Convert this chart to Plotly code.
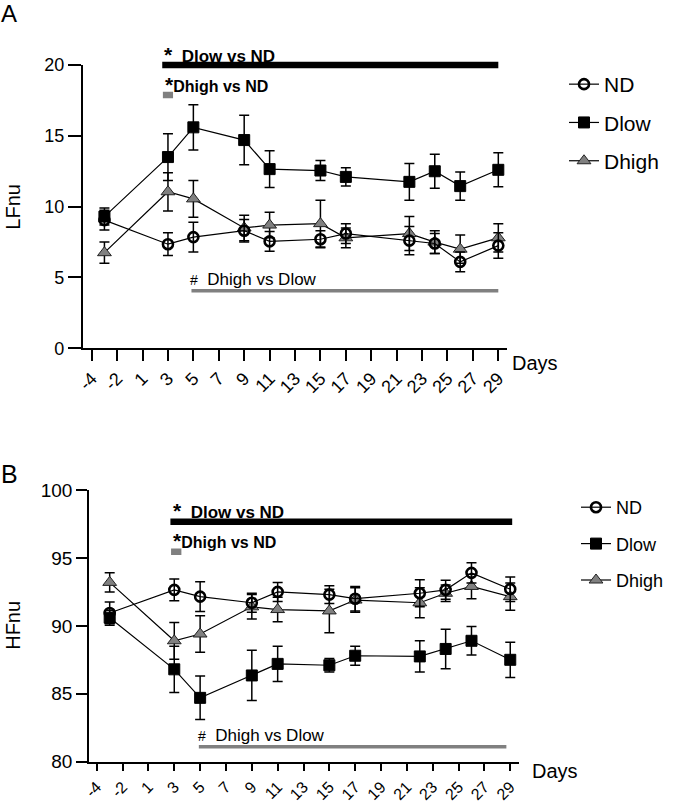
import plotly.graph_objects as go

# ---------------- data ----------------
tick_vals = [-3, -1, 1, 3, 5, 7, 9, 11, 13, 15, 17, 19, 21, 23, 25, 27, 29]
tick_text = ["-4", "-2", "1", "3", "5", "7", "9", "11", "13", "15", "17",
             "19", "21", "23", "25", "27", "29"]
days = [-2, 3, 5, 9, 11, 15, 17, 22, 24, 26, 29]

lf_nd = [9.05, 7.35, 7.85, 8.3, 7.55, 7.7, 8.1, 7.6, 7.4, 6.1, 7.25]
lf_nd_err = [0.7, 0.8, 1.05, 0.8, 0.7, 0.6, 0.7, 1.0, 0.7, 0.7, 0.9]
lf_dlow = [9.3, 13.5, 15.6, 14.7, 12.65, 12.55, 12.1, 11.75, 12.5, 11.45, 12.6]
lf_dlow_err = [0.6, 1.65, 1.6, 1.75, 1.3, 0.7, 0.65, 1.3, 1.2, 1.0, 1.2]
lf_dhigh = [6.75, 11.05, 10.55, 8.5, 8.7, 8.8, 7.8, 8.1, 7.5, 7.0, 7.8]
lf_dhigh_err = [0.75, 1.35, 1.3, 0.9, 0.9, 1.65, 0.7, 1.2, 0.8, 1.0, 1.0]

hf_nd = [90.95, 92.65, 92.15, 91.7, 92.5, 92.3, 92.0, 92.4, 92.65, 93.9, 92.7]
hf_nd_err = [0.8, 0.8, 1.1, 0.7, 0.7, 0.65, 0.9, 1.0, 0.7, 0.75, 0.9]
hf_dlow = [90.6, 86.8, 84.7, 86.35, 87.2, 87.1, 87.8, 87.75, 88.3, 88.9, 87.5]
hf_dlow_err = [0.55, 1.7, 1.6, 1.85, 1.3, 0.5, 0.7, 1.15, 1.45, 1.05, 1.3]
hf_dhigh = [93.2, 88.9, 89.4, 91.4, 91.2, 91.1, 91.9, 91.7, 92.4, 92.9, 92.15]
hf_dhigh_err = [0.7, 1.35, 1.35, 0.9, 0.9, 1.6, 0.9, 1.1, 0.6, 0.9, 1.0]

# significance bars: [start day, end day, level]
sigA_low_nd = [2.55, 29.0]
sigA_high_nd = [2.6, 3.4, 17.88]
sigA_high_low = [4.85, 29.0, 4.07]
sigB_low_nd = [2.7, 29.15, 97.67]
sigB_high_nd = [2.75, 3.55, 95.46]
sigB_high_low = [4.9, 28.7, 81.1]

FONT = "Arial, Liberation Sans, sans-serif"
GRAY = "#808080"
W, H = 685, 802

fig = go.Figure()


def add_series(xa, ya, leg, y, err, name, rank):
    styles = {
        "ND": dict(symbol="circle-open", size=10, color="black",
                   line=dict(color="black", width=2.6)),
        "Dlow": dict(symbol="square", size=11, color="black",
                     line=dict(color="black", width=1)),
        "Dhigh": dict(symbol="triangle-up", size=12, color=GRAY,
                      line=dict(color="#222222", width=1)),
    }
    fig.add_trace(go.Scatter(
        x=days, y=y, mode="lines+markers", name=name,
        xaxis=xa, yaxis=ya, legend=leg, legendrank=rank,
        legendgroup=name + leg,
        marker=styles[name],
        line=dict(color="black", width=1.2),
        error_y=dict(type="data", array=err, visible=True, color="black",
                     thickness=1.5, width=5),
    ))


for name, y, e, r in [("Dhigh", lf_dhigh, lf_dhigh_err, 3),
                      ("Dlow", lf_dlow, lf_dlow_err, 2),
                      ("ND", lf_nd, lf_nd_err, 1)]:
    add_series("x", "y", "legend", y, e, name, r)
for name, y, e, r in [("Dhigh", hf_dhigh, hf_dhigh_err, 3),
                      ("Dlow", hf_dlow, hf_dlow_err, 2),
                      ("ND", hf_nd, hf_nd_err, 1)]:
    add_series("x2", "y2", "legend2", y, e, name, r)

axis_common = dict(showline=True, linecolor="black", linewidth=1.5,
                   ticks="outside", tickwidth=1.5,
                   tickcolor="black", showgrid=False, zeroline=False,
                   mirror=False, automargin=False)

fig.update_layout(
    width=W, height=H, autosize=False,
    margin=dict(l=0, r=0, t=0, b=0, pad=0, autoexpand=False),
    paper_bgcolor="white", plot_bgcolor="white",
    font=dict(family=FONT, color="black"),
    xaxis=dict(domain=[82.7 / W, 506.7 / W], range=[-3.71, 29.66],
               tickmode="array", tickvals=tick_vals, ticktext=tick_text,
               tickangle=-45, tickfont=dict(size=18), anchor="y",
               ticklen=11, **axis_common),
    yaxis=dict(domain=[1 - 348.3 / H, 1 - 65 / H], range=[0, 20],
               tickvals=[0, 5, 10, 15, 20], tickfont=dict(size=18),
               anchor="x", ticklen=13, **axis_common),
    xaxis2=dict(domain=[89 / W, 519.3 / W], range=[-3.6, 29.7],
                tickmode="array", tickvals=tick_vals, ticktext=tick_text,
                tickangle=-45, tickfont=dict(size=16), anchor="y2",
                ticklen=8, **axis_common),
    yaxis2=dict(domain=[1 - 761.7 / H, 1 - 490 / H], range=[80, 100],
                tickvals=[80, 85, 90, 95, 100], tickfont=dict(size=19),
                anchor="x2", ticklen=11, **axis_common),
    legend=dict(x=564 / W, y=1 - 64 / H, xanchor="left", yanchor="top",
                font=dict(size=21), traceorder="grouped", tracegroupgap=8,
                itemwidth=30, bgcolor="rgba(0,0,0,0)"),
    legend2=dict(x=576 / W, y=1 - 489 / H, xanchor="left", yanchor="top",
                 font=dict(size=18), traceorder="grouped", tracegroupgap=10,
                 itemwidth=30, bgcolor="rgba(0,0,0,0)"),
)

shapes = []


def hbar(xr, yr, x0, x1, y, color, width):
    shapes.append(dict(type="line", xref=xr, yref=yr, x0=x0, x1=x1,
                       y0=y, y1=y, line=dict(color=color, width=width),
                       layer="above"))


hbar("x", "y domain", sigA_low_nd[0], sigA_low_nd[1], 1.0, "black", 6.5)
hbar("x", "y", sigA_high_nd[0], sigA_high_nd[1], sigA_high_nd[2], GRAY, 6.5)
hbar("x", "y", sigA_high_low[0], sigA_high_low[1], sigA_high_low[2], GRAY, 3.5)
hbar("x2", "y2", sigB_low_nd[0], sigB_low_nd[1], sigB_low_nd[2], "black", 6.5)
hbar("x2", "y2", sigB_high_nd[0], sigB_high_nd[1], sigB_high_nd[2], GRAY, 6.5)
hbar("x2", "y2", sigB_high_low[0], sigB_high_low[1], sigB_high_low[2], GRAY, 3.5)
fig.update_layout(shapes=shapes)

ann = []


def text(x, y, s, xr, yr, size, xanchor="left", yanchor="middle",
         xshift=0, yshift=0, angle=0):
    ann.append(dict(x=x, y=y, xref=xr, yref=yr, text=s, showarrow=False,
                    xanchor=xanchor, yanchor=yanchor, xshift=xshift,
                    yshift=yshift, textangle=angle,
                    font=dict(size=size, family=FONT, color="black")))


star = '<span style="font-size:21px">*</span>'
hash_ = '<span style="font-size:14px">#</span>'
# panel A
text(sigA_low_nd[0], 20, "<b>" + star + "\u00a0\u00a0Dlow vs ND</b>", "x", "y", 17, yshift=11)
text(sigA_high_nd[0], 18.63, "<b>" + star + "Dhigh vs ND</b>", "x", "y", 16)
text(4.55, 4.83, hash_ + "\u00a0\u00a0Dhigh vs Dlow", "x", "y", 17)
text(1, 0, "Days", "x domain", "y domain", 20, xshift=3, yshift=-15)
text(13 / W, 1 - 206.7 / H, "LFnu", "paper", "paper", 20, xanchor="center",
     angle=-90)
text(0, 1, "A", "paper", "paper", 24, yanchor="top", xshift=-1, yshift=2)
# panel B
text(sigB_low_nd[0] + 0.05, 98.46, "<b>" + star + "\u00a0\u00a0Dlow vs ND</b>", "x2", "y2", 17)
text(sigB_high_nd[0], 96.27, "<b>" + star + "Dhigh vs ND</b>", "x2", "y2", 16)
text(4.65, 81.9, hash_ + "\u00a0\u00a0Dhigh vs Dlow", "x2", "y2", 17)
text(1, 0, "Days", "x2 domain", "y2 domain", 20, xshift=11, yshift=-9)
text(13 / W, 1 - 625.8 / H, "HFnu", "paper", "paper", 20, xanchor="center",
     angle=-90)
text(0, 1 - 458 / H, "B", "paper", "paper", 25, yanchor="top", xshift=-1)
fig.update_layout(annotations=ann)

fig.write_html("out.html", config={"displayModeBar": False},
               post_script="document.body.style.margin='0px';")
